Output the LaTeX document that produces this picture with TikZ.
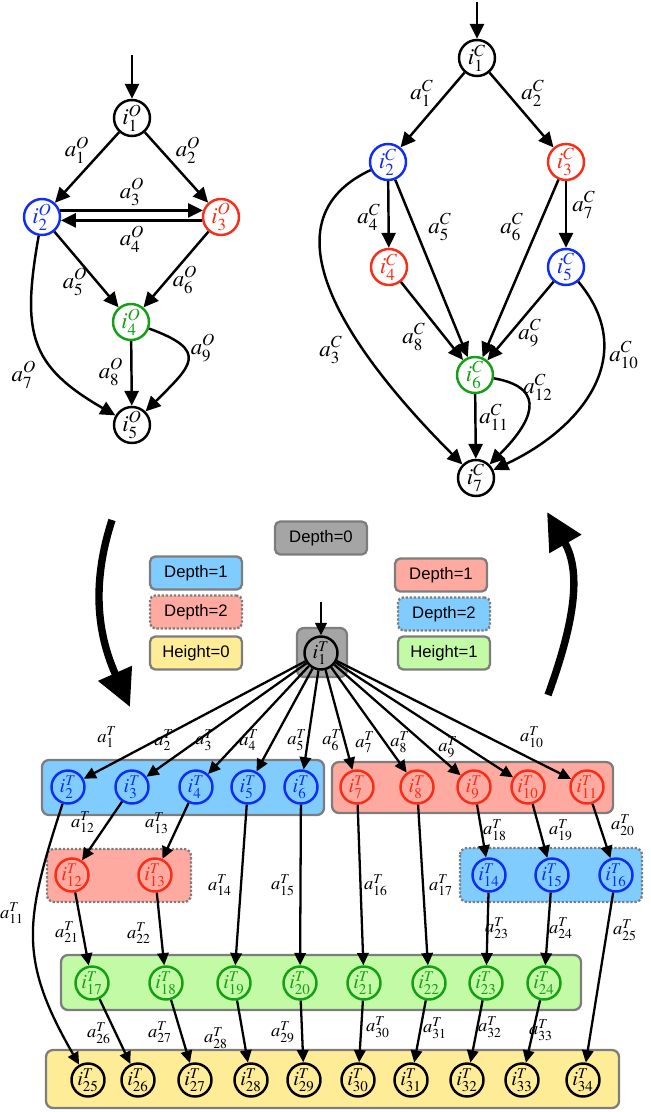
\documentclass[tikz,border=0pt]{standalone}
\usepackage{mathptmx}
\usepackage[no-math]{fontspec}
\newfontfamily\boxfont{Liberation Sans}
\usetikzlibrary{arrows.meta}

\definecolor{nblue}{RGB}{15,45,245}
\definecolor{nred}{RGB}{250,45,25}
\definecolor{ngreen}{RGB}{20,160,20}
\definecolor{fblue}{RGB}{128,204,255}
\definecolor{fred}{RGB}{255,170,160}
\definecolor{fgreen}{RGB}{195,250,165}
\definecolor{fyellow}{RGB}{255,236,150}
\definecolor{fgray}{RGB}{165,165,165}
\definecolor{bgray}{RGB}{125,125,125}

\tikzstyle{gnode}=[draw=black, shape=circle, line width=1.4pt, minimum size=0.72cm, inner sep=0pt, font=\fontsize{13}{14}\selectfont]
\tikzstyle{tnode}=[draw=black, shape=circle, line width=1.4pt, minimum size=0.66cm, inner sep=0pt, font=\fontsize{11.5}{12}\selectfont]
\tikzstyle{glab}=[inner sep=0pt, font=\fontsize{13}{14}\selectfont]
\tikzstyle{tlab}=[inner sep=0pt, font=\fontsize{10.5}{11}\selectfont]
\tikzstyle{edge}=[line width=1.4pt, -{Triangle[length=8.5pt,width=8pt]}]
\tikzstyle{tedge}=[line width=1.3pt, -{Triangle[length=7pt,width=6.5pt]}]
\tikzstyle{big}=[line width=4.2pt, -{Triangle[length=21pt,width=20pt]}]
\tikzstyle{legend}=[draw=bgray, line width=1.3pt, rounded corners=3pt, minimum width=1.84cm, minimum height=0.66cm, font=\boxfont\fontsize{9.5}{10}\selectfont]
\tikzstyle{band}=[draw=bgray, line width=1.3pt, rounded corners=4pt]

\begin{document}
\begin{tikzpicture}[x=0.02cm, y=0.02cm]
	\useasboundingbox (0,0) rectangle (651,-1112);

	% original graph
	\coordinate (o0) at (132,-55);
	\node [style=gnode] (o1) at (132,-118) {$i^O_1$};
	\node [style=gnode, draw=nblue, text=nblue] (o2) at (42,-217) {$i^O_2$};
	\node [style=gnode, draw=nred, text=nred] (o3) at (221,-217) {$i^O_3$};
	\node [style=gnode, draw=ngreen, text=ngreen] (o4) at (131,-322) {$i^O_4$};
	\node [style=gnode] (o5) at (132,-425) {$i^O_5$};

	\node [style=glab] (ao1) at (77,-150) {$a^O_1$};
	\node [style=glab] (ao2) at (188,-150) {$a^O_2$};
	\node [style=glab] (ao3) at (132,-192) {$a^O_3$};
	\node [style=glab] (ao4) at (132,-239) {$a^O_4$};
	\node [style=glab] (ao5) at (75,-282) {$a^O_5$};
	\node [style=glab] (ao6) at (185,-280) {$a^O_6$};
	\node [style=glab] (ao7) at (24,-375) {$a^O_7$};
	\node [style=glab] (ao8) at (111,-372) {$a^O_8$};
	\node [style=glab] (ao9) at (203,-348) {$a^O_9$};

	\draw [style=edge] (o0) to (o1);
	\draw [style=edge] (o1) to (o2);
	\draw [style=edge] (o1) to (o3);
	\draw [style=edge] (o2.20) to (o3.160);
	\draw [style=edge] (o3.190) to (o2.-10);
	\draw [style=edge] (o2) to (o4);
	\draw [style=edge] (o3) to (o4);
	\draw [style=edge] (o2) to[out=-100, in=150, looseness=1.3] (o5);
	\draw [style=edge] (o4) to (o5);
	\draw [style=edge] (o4) to[out=-20, in=45, looseness=2] (o5);

	% condensed graph
	\coordinate (c0) at (477,-2);
	\node [style=gnode] (c1) at (477,-58) {$i^C_1$};
	\node [style=gnode, draw=nblue, text=nblue] (c2) at (388,-162) {$i^C_2$};
	\node [style=gnode, draw=nred, text=nred] (c3) at (566,-162) {$i^C_3$};
	\node [style=gnode, draw=nred, text=nred] (c4) at (389,-267) {$i^C_4$};
	\node [style=gnode, draw=nblue, text=nblue] (c5) at (566,-267) {$i^C_5$};
	\node [style=gnode, draw=ngreen, text=ngreen] (c6) at (475,-375) {$i^C_6$};
	\node [style=gnode] (c7) at (476,-478) {$i^C_7$};

	\node [style=glab] (ac1) at (422,-93) {$a^C_1$};
	\node [style=glab] (ac2) at (533,-93) {$a^C_2$};
	\node [style=glab] (ac3) at (331,-350) {$a^C_3$};
	\node [style=glab] (ac4) at (369,-217) {$a^C_4$};
	\node [style=glab] (ac5) at (440,-227) {$a^C_5$};
	\node [style=glab] (ac6) at (512,-227) {$a^C_6$};
	\node [style=glab] (ac7) at (584,-205) {$a^C_7$};
	\node [style=glab] (ac8) at (414,-337) {$a^C_8$};
	\node [style=glab] (ac9) at (530,-333) {$a^C_9$};
	\node [style=glab] (ac10) at (624,-355) {$a^C_{10}$};
	\node [style=glab] (ac11) at (494,-417) {$a^C_{11}$};
	\node [style=glab] (ac12) at (538,-387) {$a^C_{12}$};

	\draw [style=edge] (c0) to (c1);
	\draw [style=edge] (c1) to (c2);
	\draw [style=edge] (c1) to (c3);
	\draw [style=edge] (c2) to[out=205, in=135, looseness=1.1] (c7);
	\draw [style=edge] (c2) to (c4);
	\draw [style=edge] (c2) to (c6);
	\draw [style=edge] (c3) to (c6);
	\draw [style=edge] (c3) to (c5);
	\draw [style=edge] (c4) to (c6);
	\draw [style=edge] (c5) to (c6);
	\draw [style=edge] (c5) to[out=-50, in=25, looseness=1.2] (c7);
	\draw [style=edge] (c6) to (c7);
	\draw [style=edge] (c6) to[out=-10, in=45, looseness=1.7] (c7);

	% big arrows
	\coordinate (bl1) at (112,-520);
	\coordinate (bl2) at (130,-707);
	\coordinate (br1) at (548,-695);
	\coordinate (br2) at (547,-512);
	\draw [style=big] (bl1) to[out=-108, in=114] (bl2);
	\draw [style=big] (br1) to[out=70, in=-60] (br2);

	% legend
	\node [style=legend, fill=fgray] (dep0) at (321,-538) {Depth=0};
	\node [style=legend, fill=fblue] (ldep1) at (196,-573) {Depth=1};
	\node [style=legend, fill=fred, densely dotted] (ldep2) at (196,-612) {Depth=2};
	\node [style=legend, fill=fyellow] (lhgt0) at (196,-653) {Height=0};
	\node [style=legend, fill=fred] (rdep1) at (441,-575) {Depth=1};
	\node [style=legend, fill=fblue, densely dotted] (rdep2) at (444,-614) {Depth=2};
	\node [style=legend, fill=fgreen] (rhgt1) at (444,-653) {Height=1};

	% tree
	\fill [style=band, fill=fgray] (297,-628) rectangle (347,-677);
	\fill [style=band, fill=fblue] (42,-760) rectangle (324,-815);
	\fill [style=band, fill=fred] (332,-762) rectangle (613,-813);
	\fill [style=band, fill=fred, densely dotted] (47,-849) rectangle (191,-902);
	\fill [style=band, fill=fblue, densely dotted] (460,-848) rectangle (642,-902);
	\fill [style=band, fill=fgreen] (61,-955) rectangle (581,-1010);
	\fill [style=band, fill=fyellow] (46,-1050) rectangle (619,-1108);

	\coordinate (t0) at (321,-602);
	\node [style=tnode] (t1) at (321,-653) {$i^T_1$};
	\node [style=tnode, draw=nblue, text=nblue] (t2) at (68,-787) {$i^T_2$};
	\node [style=tnode, draw=nblue, text=nblue] (t3) at (132,-787) {$i^T_3$};
	\node [style=tnode, draw=nblue, text=nblue] (t4) at (196,-787) {$i^T_4$};
	\node [style=tnode, draw=nblue, text=nblue] (t5) at (248,-787) {$i^T_5$};
	\node [style=tnode, draw=nblue, text=nblue] (t6) at (301,-787) {$i^T_6$};
	\node [style=tnode, draw=nred, text=nred] (t7) at (357,-787) {$i^T_7$};
	\node [style=tnode, draw=nred, text=nred] (t8) at (417,-787) {$i^T_8$};
	\node [style=tnode, draw=nred, text=nred] (t9) at (474,-787) {$i^T_9$};
	\node [style=tnode, draw=nred, text=nred] (t10) at (528,-787) {$i^T_{10}$};
	\node [style=tnode, draw=nred, text=nred] (t11) at (587,-787) {$i^T_{11}$};
	\node [style=tnode, draw=nred, text=nred] (t12) at (72,-875) {$i^T_{12}$};
	\node [style=tnode, draw=nred, text=nred] (t13) at (155,-875) {$i^T_{13}$};
	\node [style=tnode, draw=nblue, text=nblue] (t14) at (489,-875) {$i^T_{14}$};
	\node [style=tnode, draw=nblue, text=nblue] (t15) at (552,-875) {$i^T_{15}$};
	\node [style=tnode, draw=nblue, text=nblue] (t16) at (616,-875) {$i^T_{16}$};
	\node [style=tnode, draw=ngreen, text=ngreen] (t17) at (92,-983) {$i^T_{17}$};
	\node [style=tnode, draw=ngreen, text=ngreen] (t18) at (166,-983) {$i^T_{18}$};
	\node [style=tnode, draw=ngreen, text=ngreen] (t19) at (234,-983) {$i^T_{19}$};
	\node [style=tnode, draw=ngreen, text=ngreen] (t20) at (300,-983) {$i^T_{20}$};
	\node [style=tnode, draw=ngreen, text=ngreen] (t21) at (364,-983) {$i^T_{21}$};
	\node [style=tnode, draw=ngreen, text=ngreen] (t22) at (429,-983) {$i^T_{22}$};
	\node [style=tnode, draw=ngreen, text=ngreen] (t23) at (486,-983) {$i^T_{23}$};
	\node [style=tnode, draw=ngreen, text=ngreen] (t24) at (544,-983) {$i^T_{24}$};
	\node [style=tnode] (t25) at (88,-1080) {$i^T_{25}$};
	\node [style=tnode] (t26) at (138,-1080) {$i^T_{26}$};
	\node [style=tnode] (t27) at (195,-1080) {$i^T_{27}$};
	\node [style=tnode] (t28) at (251,-1080) {$i^T_{28}$};
	\node [style=tnode] (t29) at (304,-1080) {$i^T_{29}$};
	\node [style=tnode] (t30) at (358,-1080) {$i^T_{30}$};
	\node [style=tnode] (t31) at (411,-1080) {$i^T_{31}$};
	\node [style=tnode] (t32) at (467,-1080) {$i^T_{32}$};
	\node [style=tnode] (t33) at (522,-1080) {$i^T_{33}$};
	\node [style=tnode] (t34) at (583,-1080) {$i^T_{34}$};

	\node [style=tlab] (at1) at (107,-737) {$a^T_1$};
	\node [style=tlab] (at2) at (164,-740) {$a^T_2$};
	\node [style=tlab] (at3) at (205,-740) {$a^T_3$};
	\node [style=tlab] (at4) at (249,-740) {$a^T_4$};
	\node [style=tlab] (at5) at (297,-740) {$a^T_5$};
	\node [style=tlab] (at6) at (332,-740) {$a^T_6$};
	\node [style=tlab] (at7) at (365,-742) {$a^T_7$};
	\node [style=tlab] (at8) at (400,-742) {$a^T_8$};
	\node [style=tlab] (at9) at (448,-747) {$a^T_9$};
	\node [style=tlab] (at10) at (532,-737) {$a^T_{10}$};
	\node [style=tlab] (at11) at (12,-913) {$a^T_{11}$};
	\node [style=tlab] (at12) at (83,-822) {$a^T_{12}$};
	\node [style=tlab] (at13) at (157,-823) {$a^T_{13}$};
	\node [style=tlab] (at14) at (220,-885) {$a^T_{14}$};
	\node [style=tlab] (at15) at (283,-885) {$a^T_{15}$};
	\node [style=tlab] (at16) at (376,-885) {$a^T_{16}$};
	\node [style=tlab] (at17) at (441,-885) {$a^T_{17}$};
	\node [style=tlab] (at18) at (495,-830) {$a^T_{18}$};
	\node [style=tlab] (at19) at (561,-830) {$a^T_{19}$};
	\node [style=tlab] (at20) at (623,-825) {$a^T_{20}$};
	\node [style=tlab] (at21) at (67,-932) {$a^T_{21}$};
	\node [style=tlab] (at22) at (139,-933) {$a^T_{22}$};
	\node [style=tlab] (at23) at (497,-928) {$a^T_{23}$};
	\node [style=tlab] (at24) at (561,-928) {$a^T_{24}$};
	\node [style=tlab] (at25) at (625,-930) {$a^T_{25}$};
	\node [style=tlab] (at26) at (99,-1033) {$a^T_{26}$};
	\node [style=tlab] (at27) at (160,-1032) {$a^T_{27}$};
	\node [style=tlab] (at28) at (216,-1038) {$a^T_{28}$};
	\node [style=tlab] (at29) at (283,-1032) {$a^T_{29}$};
	\node [style=tlab] (at30) at (378,-1027) {$a^T_{30}$};
	\node [style=tlab] (at31) at (435,-1028) {$a^T_{31}$};
	\node [style=tlab] (at32) at (490,-1027) {$a^T_{32}$};
	\node [style=tlab] (at33) at (541,-1030) {$a^T_{33}$};

	\draw [style=tedge] (t0) to (t1);
	\draw [style=tedge] (t1) to (t2);
	\draw [style=tedge] (t1) to (t3);
	\draw [style=tedge] (t1) to (t4);
	\draw [style=tedge] (t1) to (t5);
	\draw [style=tedge] (t1) to (t6);
	\draw [style=tedge] (t1) to (t7);
	\draw [style=tedge] (t1) to (t8);
	\draw [style=tedge] (t1) to (t9);
	\draw [style=tedge] (t1) to (t10);
	\draw [style=tedge] (t1) to (t11);
	\draw [style=tedge] (t2) to[out=-108, in=120, looseness=1.2] (t25);
	\draw [style=tedge] (t3) to (t12);
	\draw [style=tedge] (t4) to (t13);
	\draw [style=tedge] (t5) to (t19);
	\draw [style=tedge] (t6) to (t20);
	\draw [style=tedge] (t7) to (t21);
	\draw [style=tedge] (t8) to (t22);
	\draw [style=tedge] (t9) to (t14);
	\draw [style=tedge] (t10) to (t15);
	\draw [style=tedge] (t11) to (t16);
	\draw [style=tedge] (t12) to (t17);
	\draw [style=tedge] (t13) to (t18);
	\draw [style=tedge] (t14) to (t23);
	\draw [style=tedge] (t15) to (t24);
	\draw [style=tedge] (t16) to (t34);
	\draw [style=tedge] (t17) to (t26);
	\draw [style=tedge] (t18) to (t27);
	\draw [style=tedge] (t19) to (t28);
	\draw [style=tedge] (t20) to (t29);
	\draw [style=tedge] (t21) to (t30);
	\draw [style=tedge] (t22) to (t31);
	\draw [style=tedge] (t23) to (t32);
	\draw [style=tedge] (t24) to (t33);
\end{tikzpicture}
\end{document}
